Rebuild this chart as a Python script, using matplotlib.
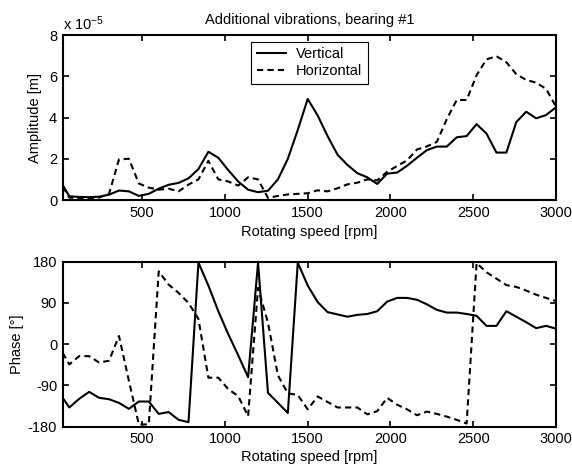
import numpy as np
import matplotlib
matplotlib.use('Agg')
import matplotlib.pyplot as plt

plt.rcParams['font.family'] = ['Liberation Sans', 'DejaVu Sans']
plt.rcParams['font.size'] = 10.5
plt.rcParams['axes.unicode_minus'] = False
plt.rcParams['mathtext.fontset'] = 'custom'
plt.rcParams['mathtext.rm'] = 'Liberation Sans'
plt.rcParams['mathtext.default'] = 'regular'

#### data (amplitude in units of 1e-5 m, phase in degrees)
rpm = [20, 60, 120, 180, 240, 300, 360, 420, 480, 540, 600, 660, 720, 780, 840,
       900, 960, 1020, 1080, 1140, 1200, 1260, 1320, 1380, 1440, 1500, 1560,
       1620, 1680, 1740, 1800, 1860, 1920, 1980, 2040, 2100, 2160, 2220, 2280,
       2340, 2400, 2460, 2520, 2580, 2640, 2700, 2760, 2820, 2880, 2940, 3000]

amp_vertical = [0.73, 0.18, 0.15, 0.14, 0.16, 0.26, 0.46, 0.42, 0.20, 0.30,
                0.55, 0.74, 0.83, 1.05, 1.50, 2.34, 2.05, 1.45, 0.90, 0.50,
                0.38, 0.45, 1.00, 2.00, 3.40, 4.90, 4.10, 3.10, 2.20, 1.70,
                1.30, 1.10, 0.78, 1.28, 1.33, 1.66, 2.05, 2.42, 2.59, 2.59,
                3.04, 3.10, 3.68, 3.22, 2.30, 2.30, 3.78, 4.28, 3.96, 4.12, 4.50]

amp_horizontal = [0.65, 0.12, 0.08, 0.08, 0.12, 0.30, 1.97, 2.00, 0.80, 0.60,
                  0.50, 0.55, 0.42, 0.75, 1.00, 1.90, 1.00, 0.90, 0.70, 1.10,
                  1.00, 0.10, 0.20, 0.27, 0.30, 0.33, 0.47, 0.42, 0.57, 0.76,
                  0.84, 1.00, 0.95, 1.37, 1.65, 1.92, 2.45, 2.60, 2.82, 3.92,
                  4.85, 4.85, 6.05, 6.82, 6.97, 6.68, 6.10, 5.82, 5.69, 5.39, 4.52]

phase_vertical = [-117, -138, -119, -104, -117, -120, -128, -141, -125, -125,
                  -152, -148, -165, -170, 178, 128, 72, 22, -24, -72,
                  178, -106, -128, -150, 178, 128, 92, 70, 65, 60,
                  64, 66, 72, 93, 101, 101, 97, 87, 75, 69,
                  69, 66, 62, 40, 40, 72, 60, 48, 35, 40, 34]

phase_horizontal = [-19, -44, -26, -26, -40, -36, 18, -80, -175, -175,
                    159, 130, 112, 90, 55, -73, -73, -98, -113, -157,
                    123, 47, -68, -107, -111, -142, -114, -126, -138, -138,
                    -138, -153, -146, -117, -132, -142, -155, -147, -152, -158,
                    -165, -173, 177, 157, 143, 129, 125, 117, 108, 101, 94]

fig = plt.figure(figsize=(5.72, 4.68), dpi=100)
ax1 = fig.add_axes([0.1096, 0.5726, 0.8625, 0.3526])
ax2 = fig.add_axes([0.1096, 0.0882, 0.8625, 0.3526])

dash = (0, (3, 2))

#### top: amplitude
ax1.plot(rpm, amp_vertical, color='black', lw=1.5, label='Vertical')
ax1.plot(rpm, amp_horizontal, color='black', lw=1.5, ls=dash, label='Horizontal')
ax1.set_xlim(20, 3000)
ax1.set_ylim(0, 8)
ax1.set_yticks([0, 2, 4, 6, 8])
ax1.set_title('Additional vibrations, bearing #1', fontsize=10.5, pad=8)
ax1.set_ylabel('Amplitude [m]', labelpad=5)
ax1.text(0.0, 1.015, r'x 10$^{-5}$', transform=ax1.transAxes, ha='left', va='bottom')
leg = ax1.legend(loc='upper center', fancybox=False, framealpha=1, edgecolor='black',
                 handlelength=2.0, handletextpad=0.7, labelspacing=0.2,
                 borderaxespad=0.45, borderpad=0.4)
leg.get_frame().set_linewidth(0.8)
ax1.set_xlabel('Rotating speed [rpm]', labelpad=4)

#### bottom: phase
ax2.plot(rpm, phase_vertical, color='black', lw=1.5)
ax2.plot(rpm, phase_horizontal, color='black', lw=1.5, ls=dash)
ax2.set_xlim(20, 3000)
ax2.set_ylim(-180, 180)
ax2.set_yticks([-180, -90, 0, 90, 180])
ax2.set_ylabel('Phase [°]', labelpad=3)
ax2.set_xlabel('Rotating speed [rpm]', labelpad=3)

for ax in (ax1, ax2):
    ax.set_xticks([500, 1000, 1500, 2000, 2500, 3000])
    ax.tick_params(direction='in', top=True, right=True, length=4, width=1.2, pad=4)
    for s in ax.spines.values():
        s.set_linewidth(1.5)

fig.savefig('out.png', dpi=100, facecolor='white')
